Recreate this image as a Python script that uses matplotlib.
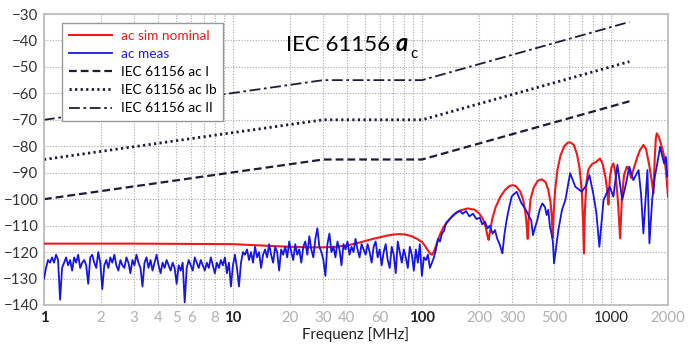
import numpy as np
import matplotlib
matplotlib.use('Agg')
import matplotlib.pyplot as plt
from matplotlib.ticker import FixedLocator, NullLocator

plt.rcParams['font.family'] = ['Lato', 'DejaVu Sans']

# limit lines (IEC 61156)
lim_f = [1, 30, 100, 1250]
lim_I = [-100, -85, -85, -63]
lim_Ib = [-85, -70, -70, -48]
lim_II = [-70, -55, -55, -33]

# simulated coupling attenuation (red)
sim_f = [1, 3, 10, 15, 20, 25, 30, 35, 40, 45, 50, 55, 60, 65, 70, 76, 82, 88, 94, 100,
         104, 107, 110, 113, 116, 120, 125, 130, 140, 150, 160, 175, 190, 200, 210, 217,
         222, 225, 228, 235, 245, 260, 275, 290, 302, 315, 330, 342, 352, 358, 362, 366,
         375, 390, 410, 430, 450, 465, 478, 486, 491, 496, 505, 520, 540, 565, 590, 612,
         635, 660, 680, 700, 712, 719, 726, 740, 757, 774, 800, 830, 875, 905, 935, 955,
         968, 985, 1005, 1028, 1055, 1085, 1116, 1140, 1170, 1211, 1245, 1275, 1310, 1368,
         1420, 1482, 1530, 1590, 1640, 1675, 1700, 1725, 1745, 1790, 1855, 1910, 1955, 2000]
sim_db = [-116.8, -116.8, -117.0, -117.6, -118, -118.2, -118.2, -118, -117.5, -116.7,
          -115.8, -115, -114.4, -113.8, -113.4, -113.2, -113.4, -114, -115, -116.2,
          -117.8, -119.2, -120.5, -121, -119.5, -116.5, -113, -110.5, -107.5, -105.5,
          -104.2, -103.5, -104, -105.3, -107.5, -110.5, -114, -115.4, -113, -107.5,
          -103, -99, -96.5, -95, -94.7, -95.2, -97, -100, -105, -110, -115, -108,
          -100, -95.5, -93, -92.5, -93.5, -96.5, -101, -107, -114.5, -106, -97, -89,
          -83.5, -80, -78.6, -78.6, -79.5, -83, -88, -97, -110, -120.5, -105, -94,
          -89, -87.7, -86.5, -86, -84.6, -87, -92, -97, -102, -92, -88, -86.5, -90,
          -100, -114.8, -100, -91, -87.7, -89, -92, -89, -84.6, -81.5, -79.5, -81,
          -87, -93, -97.8, -85, -77, -75.1, -76.5, -80.2, -84, -90, -99]

# measured coupling attenuation (blue), noisy part 1 .. ~130 MHz on the sweep grid
meas_low_db = [
    -130, -126, -123, -124, -122, -124, -121, -123, -138, -126,
    -124, -122, -125, -123, -127, -122, -124, -121, -126, -124,
    -123, -125, -132, -122, -121, -124, -126, -120, -124, -134,
    -125, -123, -126, -122, -124, -121, -125, -127, -123, -125,
    -126, -122, -124, -128, -123, -125, -121, -124, -126, -133,
    -124, -122, -126, -123, -127, -124, -121, -125, -128, -124,
    -126, -123, -125, -127, -124, -126, -132, -125, -127, -124,
    -139, -126, -123, -125, -127, -122, -124, -126, -123, -125,
    -127, -124, -126, -122, -125, -128, -124, -126, -123, -125,
    -122, -128, -124, -133, -125, -121, -126, -133, -124, -120,
    -121, -119, -123, -120, -124, -118, -122, -120, -126, -121,
    -119, -122, -117, -121, -124, -118, -120, -127, -119, -121,
    -118, -122, -116, -120, -123, -117, -121, -119, -124, -118,
    -116, -121, -114, -119, -122, -115, -111, -118, -120, -123,
    -129, -117, -113, -120, -118, -122, -116, -119, -125, -117,
    -119, -116, -121, -118, -120, -115, -119, -122, -117, -119,
    -121, -117, -120, -124, -118, -116, -122, -119, -125, -120,
    -117, -123, -126, -118, -121, -128, -116, -120, -124, -119,
    -122, -126, -118, -121, -127, -119, -124, -117, -129, -122,
    -123, -121, -126, -124, -122, -119, -115, -116, -113, -112]
meas_low_f = np.geomspace(1, 130.6, len(meas_low_db))

meas_hi_f = [134, 140, 146, 152, 158, 164, 171, 178, 186, 194, 202, 208, 215, 222, 228,
             236, 243, 250, 258, 266, 273, 280, 289, 298, 307, 317, 326, 336, 347, 358,
             368, 378, 386, 395, 407, 419, 433, 447, 456, 465, 475, 484, 492, 499, 526,
             550, 573, 607, 647, 700, 735, 768, 804, 835, 867, 912, 983, 1028, 1080, 1145,
             1200, 1248, 1311, 1397, 1440, 1482, 1557, 1595, 1650, 1704, 1760, 1816, 1906,
             1950, 1985, 2000]
meas_hi_db = [-109, -107.5, -106, -105, -104.4, -105.5, -104.5, -106.5, -105.5, -107.5,
              -107, -109.5, -108.5, -111, -110, -113, -111.7, -115, -117.3, -120.5, -113,
              -107.9, -103, -99, -98, -97.2, -99.5, -101.6, -103, -104.7, -106.5, -108,
              -113.6, -111, -107.9, -104, -101.6, -103, -106, -104, -110.4, -113, -116,
              -124.3, -111.7, -104, -100.3, -90.2, -95.3, -97.2, -95, -90.9, -97.8, -105,
              -118, -100.3, -95.3, -99, -87, -100.3, -94, -87.7, -92.8, -89, -98, -112.9,
              -89, -116.7, -100, -91.5, -86, -80.2, -86.5, -84, -91.5, -90]

x_ticks = [1, 2, 3, 4, 5, 6, 8, 10, 20, 30, 40, 60, 100, 200, 300, 500, 1000, 2000]
y_ticks = list(range(-140, -29, 10))

fig = plt.figure(figsize=(6.94, 3.46), dpi=100)
ax = fig.add_axes([44 / 694, 1 - 305 / 346, 624 / 694, 291 / 346])

lc = '#1c1c3a'
ax.plot(sim_f, sim_db, color='#f01818', lw=1.5, label='ac sim nominal', zorder=3)
ax.plot(np.concatenate([meas_low_f, meas_hi_f]), meas_low_db + meas_hi_db,
        color='#1515e8', lw=1.3, label='ac meas', zorder=4)
ax.plot(lim_f, lim_I, color=lc, lw=1.6, ls=(0, (3.5, 1.8)), label='IEC 61156 ac I')
ax.plot(lim_f, lim_Ib, color=lc, lw=2.0, ls=(0, (0.8, 1.2)), label='IEC 61156 ac Ib')
ax.plot(lim_f, lim_II, color=lc, lw=1.3, ls=(0, (6, 2, 1.5, 2)), label='IEC 61156 ac II')

ax.set_xscale('log')
ax.set_xlim(1, 2000)
ax.set_ylim(-140, -30)

# grid at every 1..9 x 10^n
grid_x = [m * 10 ** e for e in range(0, 4) for m in range(1, 10) if m * 10 ** e <= 2000]
ax.xaxis.set_major_locator(FixedLocator(x_ticks))
ax.xaxis.set_minor_locator(NullLocator())
ax.set_xticklabels([str(t) for t in x_ticks])
for t in grid_x:
    ax.axvline(t, color='#a8a8a8', lw=0.8, ls=(0, (1, 1.5)), zorder=0)
ax.set_yticks(y_ticks)
for v in y_ticks:
    ax.axhline(v, color='#a8a8a8', lw=0.8, ls=(0, (1, 1.5)), zorder=0)

ax.tick_params(length=0, labelsize=10.8, pad=4)
for lab, t in zip(ax.get_xticklabels(), x_ticks):
    if t in (1, 10, 100, 1000):
        lab.set_color('#222222')
        if t != 1000:
            lab.set_fontweight('bold')
    else:
        lab.set_color('#b0b0b0')
for lab in ax.get_yticklabels():
    lab.set_color('#333333')

for s in ax.spines.values():
    s.set_color('#b8b8b8')
    s.set_linewidth(1.2)

ax.set_xlabel('Frequenz [MHz]', fontsize=10.8, color='#222222', labelpad=2)

leg = ax.legend(loc='upper left', bbox_to_anchor=(18 / 624, 282 / 291), fontsize=9.8,
                frameon=True, fancybox=False, edgecolor='#999999', framealpha=1,
                handlelength=3.2, handletextpad=0.6, borderpad=0.5, labelspacing=0.45,
                borderaxespad=0)
leg.get_frame().set_linewidth(1.0)
leg.get_texts()[0].set_color('#f01818')
leg.get_texts()[1].set_color('#2020e0')

fig.text(390 / 694, 1 - 51 / 346, 'IEC 61156', ha='right', va='baseline', fontsize=16)
fig.text(396 / 694, 1 - 51 / 346, 'a', ha='left', va='baseline', fontsize=17,
         fontweight='bold', fontstyle='italic')
fig.text(410 / 694, 1 - 58 / 346, 'c', ha='left', va='baseline', fontsize=11)

fig.savefig('out.png', dpi=100)
